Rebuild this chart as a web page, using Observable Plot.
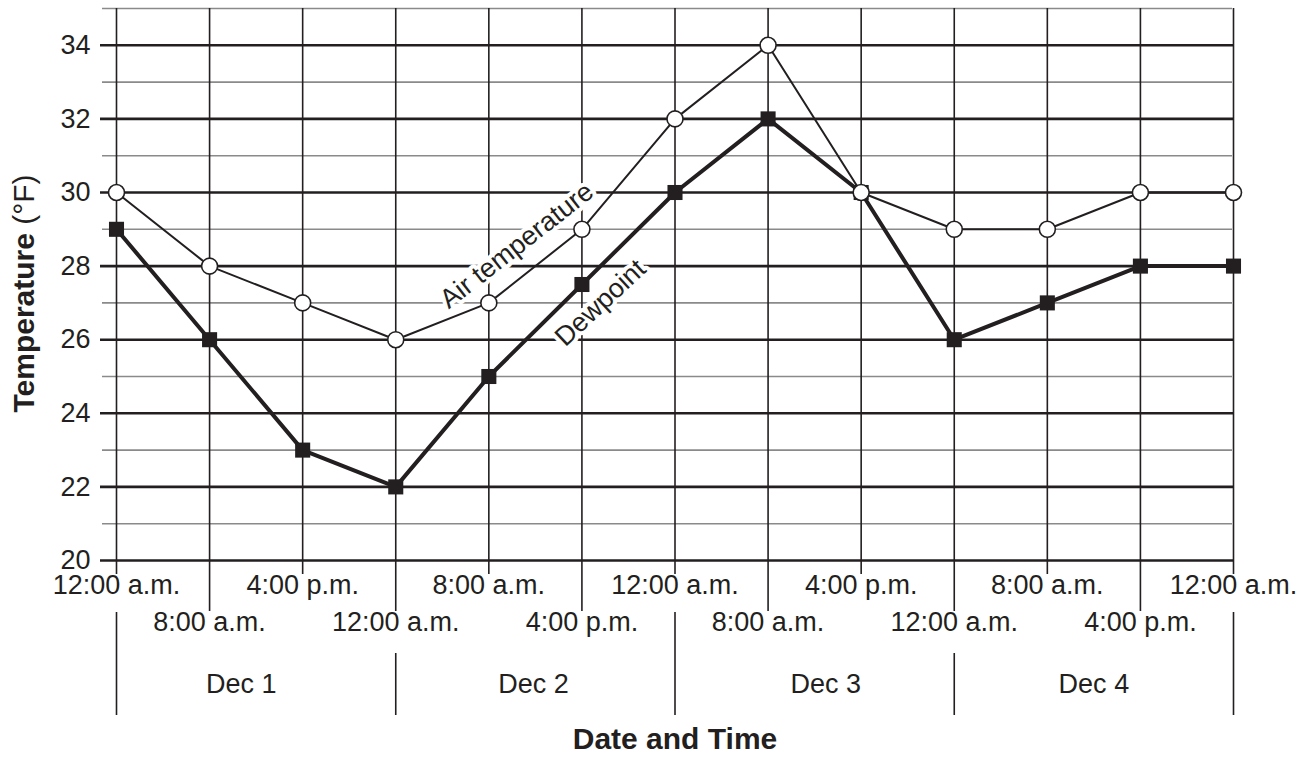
<!DOCTYPE html>
<html><head><meta charset="utf-8">
<script src="https://cdn.jsdelivr.net/npm/d3@7"></script>
<script src="https://cdn.jsdelivr.net/npm/@observablehq/plot@0.6"></script>
<style>body{margin:0;background:#fff}</style>
</head><body><div id="chart"></div>
<script>
const timeLabels = ["12:00 a.m.","8:00 a.m.","4:00 p.m.","12:00 a.m.","8:00 a.m.","4:00 p.m.","12:00 a.m.","8:00 a.m.","4:00 p.m.","12:00 a.m.","8:00 a.m.","4:00 p.m.","12:00 a.m."];
const airTemperature = [30, 28, 27, 26, 27, 29, 32, 34, 30, 29, 29, 30, 30];
const dewpoint = [29, 26, 23, 22, 25, 27.5, 30, 32, 30, 26, 27, 28, 28];
const dayLabels = ["Dec 1", "Dec 2", "Dec 3", "Dec 4"];
const majorTicks = [20, 22, 24, 26, 28, 30, 32, 34];
const minorTicks = [21, 23, 25, 27, 29, 31, 33, 35];

const ink = "#231f20";
const idx = d3.range(timeLabels.length);
const row1 = idx.filter(i => i % 2 === 0);
const row2 = idx.filter(i => i % 2 === 1);
const mid1 = idx.filter(i => i % 3 === 0 && i % 2 === 0);
const mid2 = idx.filter(i => i % 3 === 0 && i % 2 === 1);
const dayNudge = [-0.16, -0.02, 0.12, 0];
const annotations = [
  {t: "Air temperature", x: 4.3, y: 28.56, r: -38},
  {t: "Dewpoint", x: 5.2, y: 27.0, r: -43}
];

const plot = Plot.plot({
  width: 1312, height: 766,
  marginLeft: 116, marginRight: 79, marginTop: 8, marginBottom: 206,
  x: {domain: [0, 12], axis: null},
  y: {domain: [20, 35], axis: null},
  style: {fontFamily: "'Liberation Sans', Arial, Helvetica, sans-serif", fontSize: "27px", color: ink, background: "#fff"},
  marks: [
    Plot.ruleY(minorTicks, {stroke: "#8a8a8a", strokeWidth: 1.6, insetLeft: -14, insetRight: 1}),
    Plot.ruleY(majorTicks, {stroke: ink, strokeWidth: 2.6, insetLeft: -16}),
    Plot.ruleX(row1, {stroke: ink, strokeWidth: 1.6, insetBottom: -14}),
    Plot.ruleX(row2, {stroke: ink, strokeWidth: 1.6, insetBottom: -51}),
    Plot.ruleX(mid1, {stroke: ink, strokeWidth: 1.6, insetTop: 604, insetBottom: -155}),
    Plot.ruleX(mid2, {stroke: ink, strokeWidth: 1.6, insetTop: 645, insetBottom: -155}),
    Plot.text(majorTicks, {y: d => d, text: d => String(d), frameAnchor: "left", dx: -26, textAnchor: "end", fontSize: 27}),
    Plot.text(row1, {x: d => d, text: d => timeLabels[d], frameAnchor: "bottom", dy: 33, fontSize: 27}),
    Plot.text(row2, {x: d => d, text: d => timeLabels[d], frameAnchor: "bottom", dy: 70, fontSize: 27}),
    Plot.text(dayLabels, {x: (d, i) => i * 3 + 1.5 + dayNudge[i], text: d => d, frameAnchor: "bottom", dy: 132, fontSize: 27}),
    Plot.text(["Date and Time"], {frameAnchor: "bottom", dy: 188, fontSize: 30, fontWeight: "bold"}),
    Plot.text(["Temperature (°F)"], {frameAnchor: "left", textAnchor: "middle", dx: -92, dy: 9, rotate: -90, fontSize: 30, fontWeight: "bold"}),
    Plot.text(annotations, {x: "x", y: "y", text: "t", rotate: "r", fill: ink, stroke: "#fff", strokeWidth: 8, fontSize: 27}),
    Plot.line(idx, {x: d => d, y: d => dewpoint[d], stroke: ink, strokeWidth: 4}),
    Plot.dot(idx, {x: d => d, y: d => dewpoint[d], symbol: "square", r: 8.5, fill: ink, stroke: "none"}),
    Plot.line(idx, {x: d => d, y: d => airTemperature[d], stroke: ink, strokeWidth: 2}),
    Plot.dot(idx, {x: d => d, y: d => airTemperature[d], symbol: "circle", r: 8, fill: "#fff", stroke: ink, strokeWidth: 1.6})
  ]
});
document.getElementById("chart").appendChild(plot);
d3.select(plot).selectAll("text").filter(function() { return this.textContent === "Temperature (°F)"; })
  .html('<tspan font-weight="bold">Temperature</tspan><tspan font-weight="normal"> (°F)</tspan>');
</script>
</body></html>
